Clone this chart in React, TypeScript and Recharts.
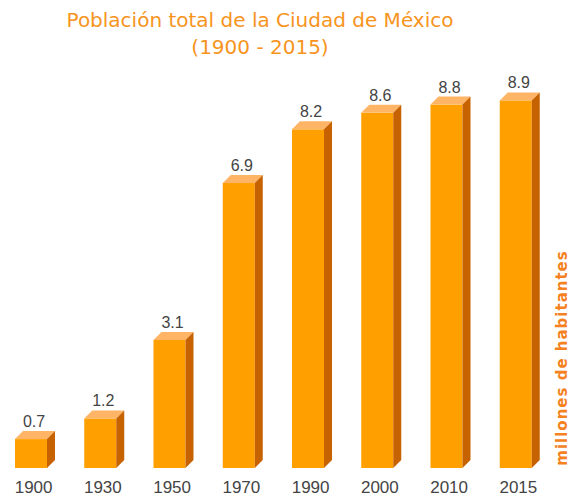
import { BarChart, Bar, XAxis, YAxis, LabelList } from "recharts";

const years = ["1900", "1930", "1950", "1970", "1990", "2000", "2010", "2015"];
const population = [0.7, 1.2, 3.1, 6.9, 8.2, 8.6, 8.8, 8.9];

const data = years.map((year, i) => ({ year, value: population[i] }));

const ORANGE = "#F7941D";
const DEPTH = 8;

// front face + top + side to fake the 3d look
function Bar3D(props: any) {
  const { x, y, width, height } = props;
  const d = DEPTH;
  return (
    <g>
      <rect x={x} y={y} width={width} height={height} fill="#FFA000" />
      <polygon
        points={`${x},${y} ${x + d},${y - d} ${x + width + d},${y - d} ${x + width},${y}`}
        fill="#FFB466"
      />
      <polygon
        points={`${x + width},${y} ${x + width + d},${y - d} ${x + width + d},${y + height - d} ${x + width},${y + height}`}
        fill="#C76200"
      />
    </g>
  );
}

function YearTick(props: any) {
  const { x, y, payload } = props;
  return (
    <text
      x={x + 3}
      y={y + 17}
      textAnchor="middle"
      fontSize={17}
      fontFamily="'Liberation Sans', Arial, sans-serif"
      fill="#444"
    >
      {payload.value}
    </text>
  );
}

function ValueLabel(props: any) {
  const { x, y, width, value } = props;
  return (
    <text
      x={x + width / 2 + 3}
      y={y - 12}
      textAnchor="middle"
      fontSize={16}
      fontFamily="'Liberation Sans', Arial, sans-serif"
      fill="#444"
    >
      {value}
    </text>
  );
}

export default function App() {
  return (
    <div style={{ position: "absolute", left: 0, top: 0, width: 570, height: 496, background: "#fff" }}>
      <BarChart
        width={570}
        height={496}
        data={data}
        margin={{ top: 55, right: 20, bottom: 0, left: -4 }}
      >
        <XAxis dataKey="year" axisLine={false} tickLine={false} height={28} tick={<YearTick />} interval={0} />
        <YAxis hide domain={[0, 10]} />
        <Bar dataKey="value" barSize={32} shape={<Bar3D />} isAnimationActive={false}>
          <LabelList dataKey="value" content={<ValueLabel />} />
        </Bar>
      </BarChart>
      <svg
        width={570}
        height={496}
        style={{ position: "absolute", left: 0, top: 0, pointerEvents: "none" }}
      >
        <text x={260} y={27} textAnchor="middle" fontSize={20} fontFamily="'DejaVu Sans', Verdana, sans-serif" fill={ORANGE}>
          Población total de la Ciudad de México
        </text>
        <text x={260} y={54} textAnchor="middle" fontSize={20} fontFamily="'DejaVu Sans', Verdana, sans-serif" fill={ORANGE}>
          (1900 - 2015)
        </text>
        <text
          transform="translate(567,358) rotate(-90)"
          textAnchor="middle"
          fontSize={15}
          fontWeight="bold"
          letterSpacing={1}
          fontFamily="'DejaVu Sans', Verdana, sans-serif"
          fill="#F5821F"
        >
          millones de habitantes
        </text>
      </svg>
    </div>
  );
}
